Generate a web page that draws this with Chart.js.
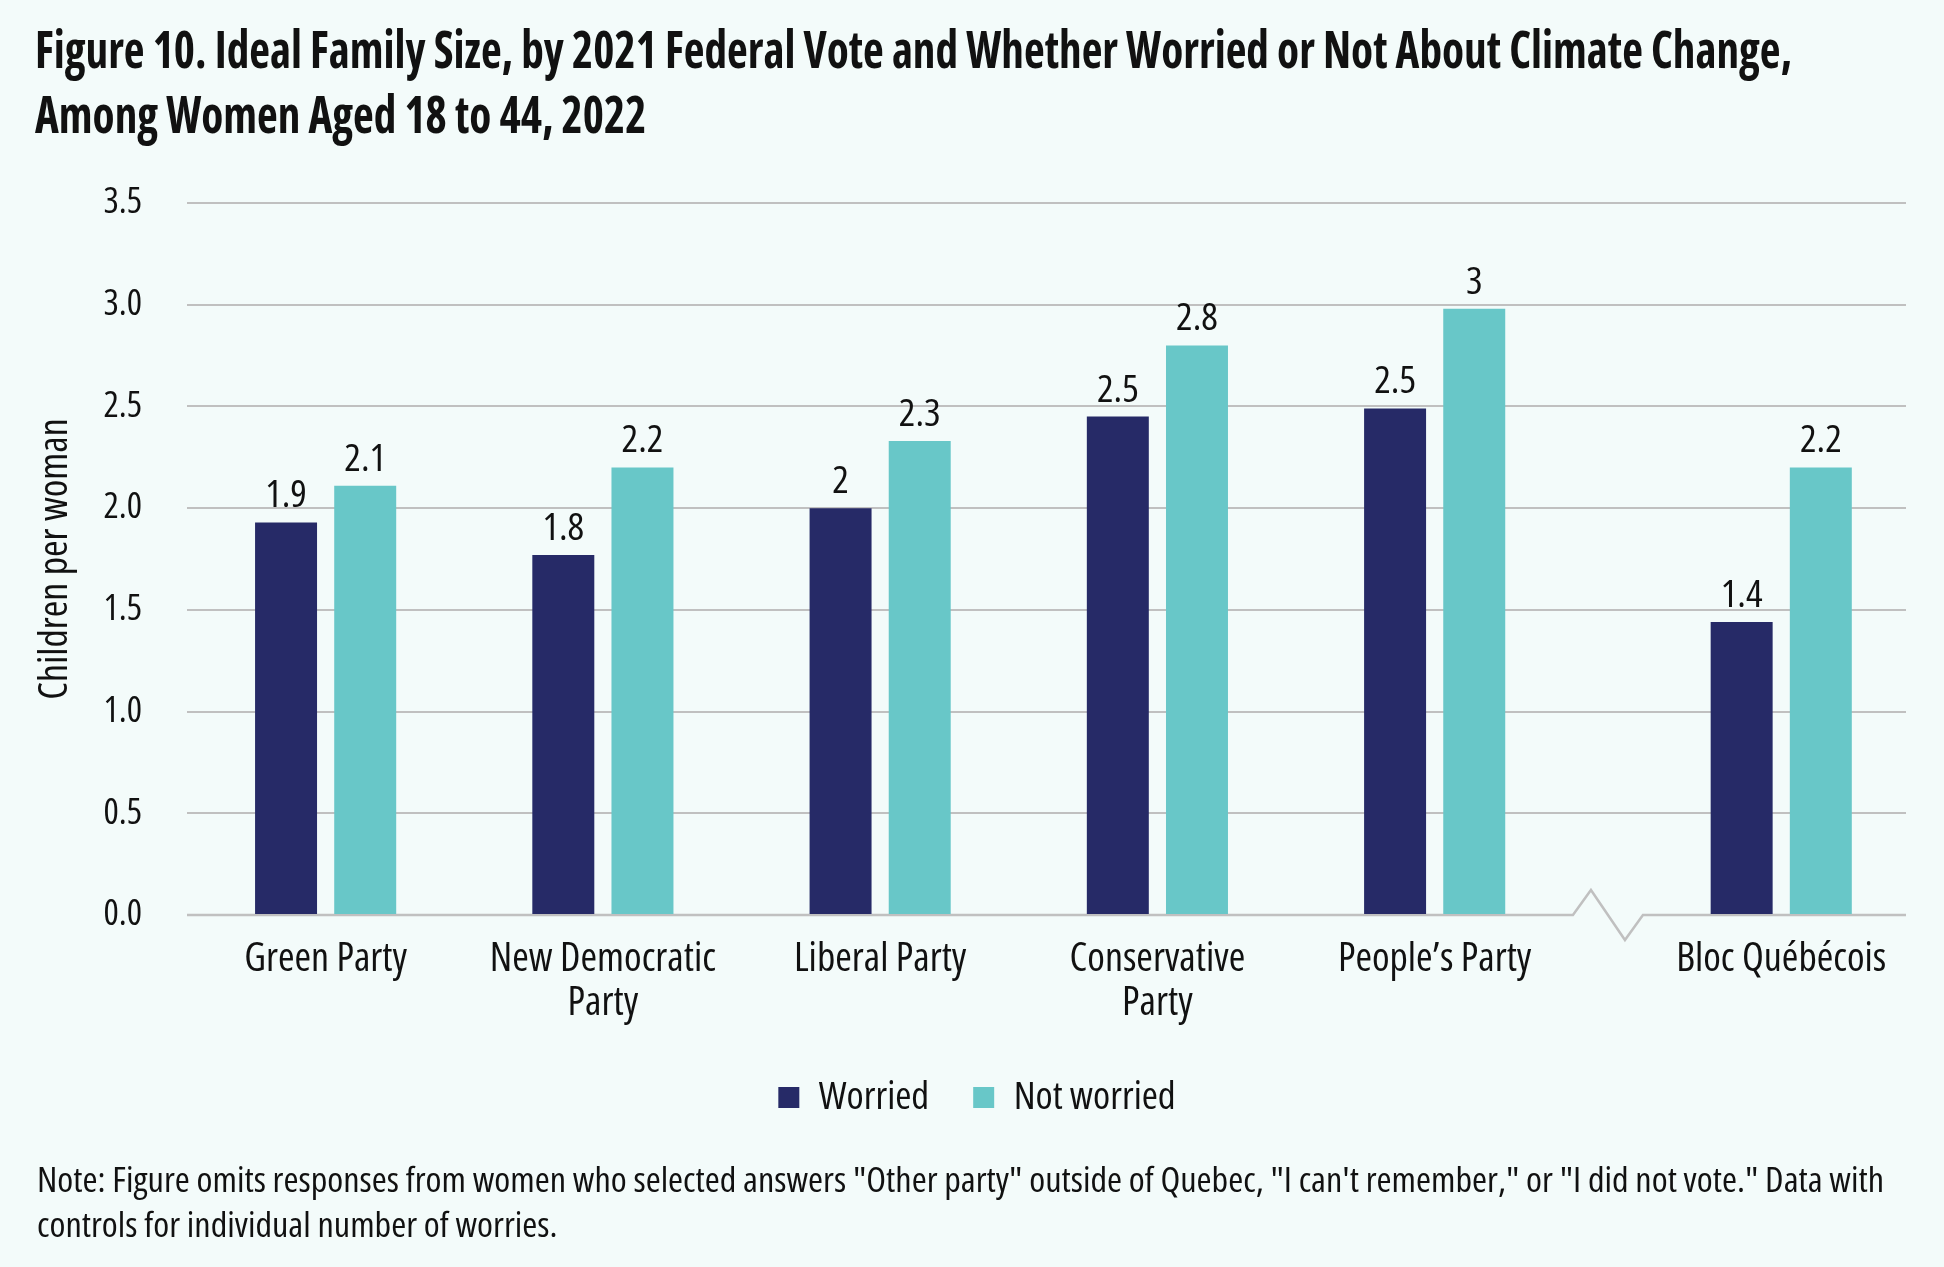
<!DOCTYPE html>
<html lang="en">
<head>
  <meta charset="UTF-8" />
  <title>Figure 10 - Ideal Family Size</title>
  <style>
    * {
      margin: 0;
      padding: 0;
      box-sizing: border-box;
    }

    body {
      width: 1944px;
      height: 1267px;
      background-color: #f3fbfa;
      position: relative;
      overflow: hidden;
      font-family: 'Open Sans', sans-serif;
      font-stretch: condensed;
      color: #111;
    }

    #chart {
      position: absolute;
      left: 0;
      top: 0;
    }

    .title,
    .note {
      position: absolute;
      white-space: nowrap;
    }

    .title {
      left: 35px;
      top: 16px;
      font-size: 51px;
      line-height: 65px;
      font-weight: bold;
    }

    .note {
      left: 37px;
      top: 1157px;
      font-size: 35px;
      line-height: 44.5px;
    }

    .title span,
    .note span {
      display: inline-block;
      transform-origin: left top;
    }
  </style>
</head>
<body>
  <canvas id="chart" width="1944" height="1267"></canvas>

  <div class="title">
    <span>Figure 10. Ideal Family Size, by 2021 Federal Vote and Whether Worried or Not About Climate Change,</span><br />
    <span>Among Women Aged 18 to 44, 2022</span>
  </div>

  <div class="note">
    <span>Note: Figure omits responses from women who selected answers "Other party" outside of Quebec, "I can't remember," or "I did not vote." Data with</span><br />
    <span>controls for individual number of worries.</span>
  </div>

  <script src="https://cdn.jsdelivr.net/npm/chart.js"></script>
  <script>
    const parties = ['Green Party', ['New Democratic', 'Party'], 'Liberal Party', ['Conservative', 'Party'], 'People\u2019s Party', 'Bloc Qu\u00e9b\u00e9cois'];
    const worried = [1.93, 1.77, 2.0, 2.45, 2.49, 1.44];
    const notWorried = [2.11, 2.2, 2.33, 2.8, 2.98, 2.2];
    const yTicks = [0, 0.5, 1, 1.5, 2, 2.5, 3, 3.5];

    // the axis is broken after People's Party, Bloc sits a bit further right
    const BREAK_AFTER = 4;
    const BREAK_GAP = 0.25;
    const slots = parties.map((p, i) => i + (i > BREAK_AFTER ? BREAK_GAP : 0));

    const FONT = "'Open Sans', sans-serif";
    const GRID = '#c0c0c0';

    // squeeze the html text lines to the widths of the original figure
    function fitLines(selector, target) {
      const lines = document.querySelectorAll(selector + ' span');
      const k = target / lines[0].getBoundingClientRect().width;
      lines.forEach(l => { l.style.transform = 'scaleX(' + k + ')'; });
    }
    fitLines('.title', 1757);
    fitLines('.note', 1847);

    // a new ctx.font drops the stretch, so put the condensed face back every time
    const canvas = document.getElementById('chart');
    const ctx2d = canvas.getContext('2d');
    const fontProp = Object.getOwnPropertyDescriptor(CanvasRenderingContext2D.prototype, 'font');
    Object.defineProperty(ctx2d, 'font', {
      get() { return fontProp.get.call(this); },
      set(v) {
        fontProp.set.call(this, v);
        this.fontStretch = 'condensed';
      }
    });

    const fmt = v => String(Math.round(v * 10) / 10);

    // numbers above each bar
    const valueLabels = {
      id: 'valueLabels',
      afterDatasetsDraw(chart) {
        const ctx = chart.ctx;
        ctx.save();
        ctx.font = '39px ' + FONT;
        ctx.fillStyle = '#111';
        ctx.textAlign = 'center';
        ctx.textBaseline = 'alphabetic';
        chart.data.datasets.forEach((ds, d) => {
          chart.getDatasetMeta(d).data.forEach((bar, i) => {
            ctx.fillText(fmt(ds.data[i].y), bar.x, bar.y - 15);
          });
        });
        ctx.restore();
      }
    };

    // zero line with the zig-zag axis break
    const brokenBaseline = {
      id: 'brokenBaseline',
      beforeDatasetsDraw(chart) {
        const { ctx, chartArea, scales } = chart;
        const y0 = scales.y.getPixelForValue(0);
        const cx = scales.x.getPixelForValue((slots[BREAK_AFTER] + slots[BREAK_AFTER + 1]) / 2);
        ctx.save();
        ctx.strokeStyle = GRID;
        ctx.lineWidth = 2.5;
        ctx.beginPath();
        ctx.moveTo(chartArea.left, y0);
        ctx.lineTo(cx - 35, y0);
        ctx.lineTo(cx - 17, y0 - 25);
        ctx.lineTo(cx + 17, y0 + 25);
        ctx.lineTo(cx + 35, y0);
        ctx.lineTo(chartArea.right, y0);
        ctx.stroke();
        ctx.restore();
      }
    };

    // legend sits centred on the page, not on the padded box
    const legendNudge = {
      id: 'legendNudge',
      afterLayout(chart) {
        chart.legend.left += 14;
        chart.legend.right += 14;
      }
    };

    Chart.defaults.font.family = FONT;
    Chart.defaults.color = '#111';

    new Chart(canvas, {
      type: 'bar',
      data: {
        datasets: [
          {
            label: 'Worried',
            data: worried.map((v, i) => ({ x: slots[i], y: v })),
            backgroundColor: '#262a67'
          },
          {
            label: 'Not worried',
            data: notWorried.map((v, i) => ({ x: slots[i], y: v })),
            backgroundColor: '#68c7c8'
          }
        ]
      },
      options: {
        responsive: false,
        animation: false,
        devicePixelRatio: 1,
        categoryPercentage: 0.571,
        barPercentage: 0.783,
        layout: {
          padding: { left: 20, right: 38, top: 203, bottom: 140 }
        },
        plugins: {
          legend: {
            position: 'bottom',
            labels: {
              boxWidth: 21,
              boxHeight: 21,
              padding: 44,
              font: { size: 39 },
              color: '#111'
            }
          },
          tooltip: { enabled: false }
        },
        scales: {
          x: {
            type: 'linear',
            offset: false,
            min: -0.5,
            max: 5.7,
            afterBuildTicks: axis => {
              axis.ticks = slots.map(v => ({ value: v }));
            },
            afterFit: axis => {
              axis.height = 119;
            },
            grid: { display: false, offset: false },
            border: { display: false },
            ticks: {
              autoSkip: false,
              maxRotation: 0,
              padding: 15,
              font: { size: 40, lineHeight: 1.09 },
              color: '#111',
              callback: (value, index) => parties[index]
            }
          },
          y: {
            min: 0,
            max: 3.5,
            afterBuildTicks: axis => {
              axis.ticks = yTicks.map(v => ({ value: v }));
            },
            afterFit: axis => {
              axis.width = 167;
            },
            grid: {
              color: ctx => (ctx.tick && ctx.tick.value === 0 ? 'rgba(0,0,0,0)' : GRID),
              lineWidth: 2,
              drawTicks: false
            },
            border: { display: false },
            ticks: {
              padding: 45,
              font: { size: 36 },
              color: '#111',
              callback: v => v.toFixed(1)
            },
            title: {
              display: true,
              text: 'Children per woman',
              font: { size: 40 },
              color: '#111',
              padding: { top: 12, bottom: 0 }
            }
          }
        }
      },
      plugins: [brokenBaseline, valueLabels, legendNudge]
    });
  </script>
</body>
</html>
